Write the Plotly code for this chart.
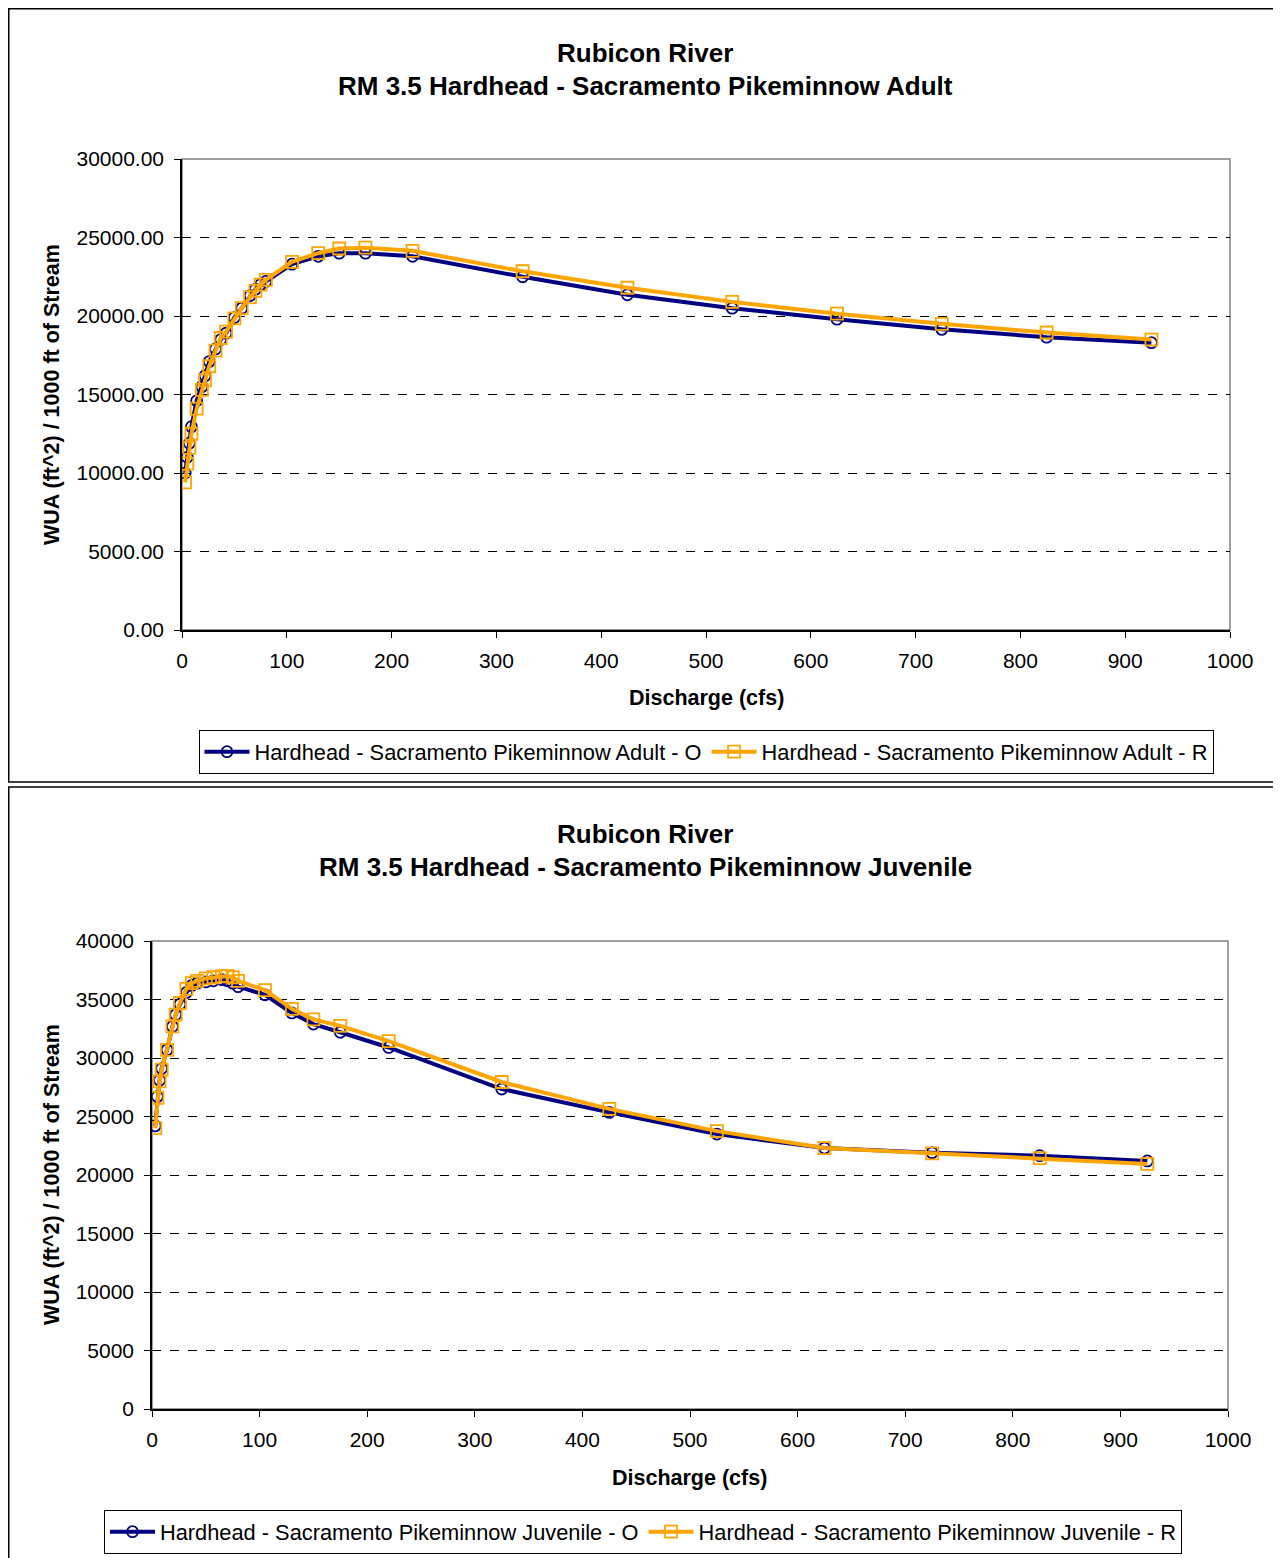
import plotly.graph_objects as go

# discharge (cfs)
discharge = [3, 5, 7, 9, 14, 19, 22, 26, 32, 37, 42, 50, 57, 65, 70, 75, 80,
             105, 130, 150, 175, 220, 325, 425, 525, 625, 725, 825, 925]

adult_o = [10000, 11000, 11900, 12950, 14600, 15500, 16200, 17100, 17900, 18500,
           18900, 19900, 20500, 21300, 21700, 22000, 22200, 23300, 23800, 24000,
           24000, 23800, 22500, 21350, 20500, 19800, 19150, 18650, 18300]
adult_r = [9400, 10600, 11600, 12500, 14100, 15300, 15900, 16800, 17800, 18600,
           19000, 19850, 20500, 21200, 21600, 22000, 22300, 23450, 24000, 24300,
           24350, 24150, 22850, 21800, 20900, 20150, 19500, 18950, 18500]

juv_o = [24200, 26700, 28100, 29100, 30700, 32700, 33700, 34600, 35600, 36200,
         36400, 36500, 36600, 36700, 36600, 36400, 36100, 35400, 33850, 32900,
         32200, 30900, 27350, 25350, 23500, 22300, 21900, 21650, 21200]
juv_r = [24000, 26600, 28000, 29000, 30700, 32700, 33700, 34700, 35900, 36400,
         36600, 36800, 36900, 37000, 37000, 36900, 36600, 35800, 34200, 33300,
         32750, 31450, 27950, 25650, 23750, 22300, 21850, 21450, 20950]

NAVY = "#000080"
ORANGE = "#FFA500"
FONT = "Arial, Liberation Sans, sans-serif"
OFF = 8  # page body margin
W, H = 1273, 1550


def px(x):
    return (x - OFF) / W


def py(y):
    return 1 - (y - OFF) / H


def series(x, y, name, color, symbol, size, xa, ya, leg):
    return go.Scatter(x=x, y=y, mode="lines+markers", name=name,
                      line=dict(color=color, width=4),
                      marker=dict(symbol=symbol, size=size, color=color, line=dict(width=1.8)),
                      xaxis=xa, yaxis=ya, legend=leg)


fig = go.Figure()

# top chart
fig.add_trace(series(discharge, adult_o, "Hardhead - Sacramento Pikeminnow Adult - O",
                     NAVY, "circle-open", 11, "x", "y", "legend"))
fig.add_trace(series(discharge, adult_r, "Hardhead - Sacramento Pikeminnow Adult - R",
                     ORANGE, "square-open", 12, "x", "y", "legend"))

# bottom chart
fig.add_trace(series(discharge, juv_o, "Hardhead - Sacramento Pikeminnow Juvenile - O",
                     NAVY, "circle-open", 11, "x2", "y2", "legend2"))
fig.add_trace(series(discharge, juv_r, "Hardhead - Sacramento Pikeminnow Juvenile - R",
                     ORANGE, "square-open", 12, "x2", "y2", "legend2"))

xcommon = dict(range=[0, 1000], dtick=100, showgrid=False, zeroline=False,
               showline=True, linecolor="black", linewidth=1.5,
               ticks="outside", ticklen=6, tickcolor="black", ticklabelstandoff=5,
               tickfont=dict(family=FONT, size=21, color="black"))
ycommon = dict(showgrid=True, gridcolor="black", griddash="dash", gridwidth=1,
               zeroline=False, showline=True, linecolor="black", linewidth=1.5,
               ticks="outside", ticklen=6, tickcolor="black", ticklabelstandoff=6,
               tickfont=dict(family=FONT, size=21, color="black"))

legfont = dict(family=FONT, size=21.8, color="black")
fig.update_layout(
    width=W, height=H,
    margin=dict(l=0, r=0, t=0, b=0, autoexpand=False),
    paper_bgcolor="white", plot_bgcolor="white",
    showlegend=True,
    xaxis=dict(domain=[px(182), px(1230)], anchor="y", **xcommon),
    yaxis=dict(domain=[py(630), py(159)], anchor="x", range=[0, 30000], dtick=5000,
               tickformat=".2f", **ycommon),
    xaxis2=dict(domain=[px(152), px(1228)], anchor="y2", **xcommon),
    yaxis2=dict(domain=[py(1409), py(941)], anchor="x2", range=[0, 40000], dtick=5000,
                tickformat="d", **ycommon),
    legend=dict(orientation="h", x=px(706), y=py(752), xanchor="center", yanchor="middle",
                bordercolor="black", borderwidth=1, bgcolor="white",
                font=legfont, itemwidth=45),
    legend2=dict(orientation="h", x=px(643), y=py(1532), xanchor="center", yanchor="middle",
                 bordercolor="black", borderwidth=1, bgcolor="white",
                 font=legfont, itemwidth=45),
)

shapes = [
    # outer frames
    dict(type="rect", xref="paper", yref="paper", x0=px(8.75), x1=px(1280), y0=py(782), y1=py(8.75),
         line=dict(color="black", width=1.5), layer="below"),
    dict(type="rect", xref="paper", yref="paper", x0=px(8.75), x1=px(1280), y0=py(1600), y1=py(787),
         line=dict(color="black", width=1.5), layer="below"),
    # grey plot borders
    dict(type="rect", xref="x domain", yref="y domain", x0=0, x1=1, y0=0, y1=1,
         line=dict(color="#808080", width=1.5), layer="below"),
    dict(type="rect", xref="x2 domain", yref="y2 domain", x0=0, x1=1, y0=0, y1=1,
         line=dict(color="#808080", width=1.5), layer="below"),
]
fig.update_layout(shapes=shapes)

bold = dict(family=FONT, size=26, color="black")
ttl = dict(family=FONT, size=21.5, color="black")
annotations = [
    dict(text="<b>Rubicon River</b>", x=px(645), y=py(53), font=bold),
    dict(text="<b>RM 3.5 Hardhead - Sacramento Pikeminnow Adult</b>", x=px(645), y=py(86), font=bold),
    dict(text="<b>Rubicon River</b>", x=px(645), y=py(834), font=bold),
    dict(text="<b>RM 3.5 Hardhead - Sacramento Pikeminnow Juvenile</b>", x=px(645), y=py(867), font=bold),
    dict(text="<b>Discharge (cfs)</b>", x=px(706), y=py(698), font=ttl),
    dict(text="<b>Discharge (cfs)</b>", x=px(690), y=py(1478), font=ttl),
    dict(text="<b>WUA (ft^2) / 1000 ft of Stream</b>", x=px(52), y=py(395), font=ttl, textangle=-90),
    dict(text="<b>WUA (ft^2) / 1000 ft of Stream</b>", x=px(52), y=py(1175), font=ttl, textangle=-90),
]
for a in annotations:
    a.update(xref="paper", yref="paper", xanchor="center", yanchor="middle", showarrow=False)
fig.update_layout(annotations=annotations)

fig.write_html("out.html")
